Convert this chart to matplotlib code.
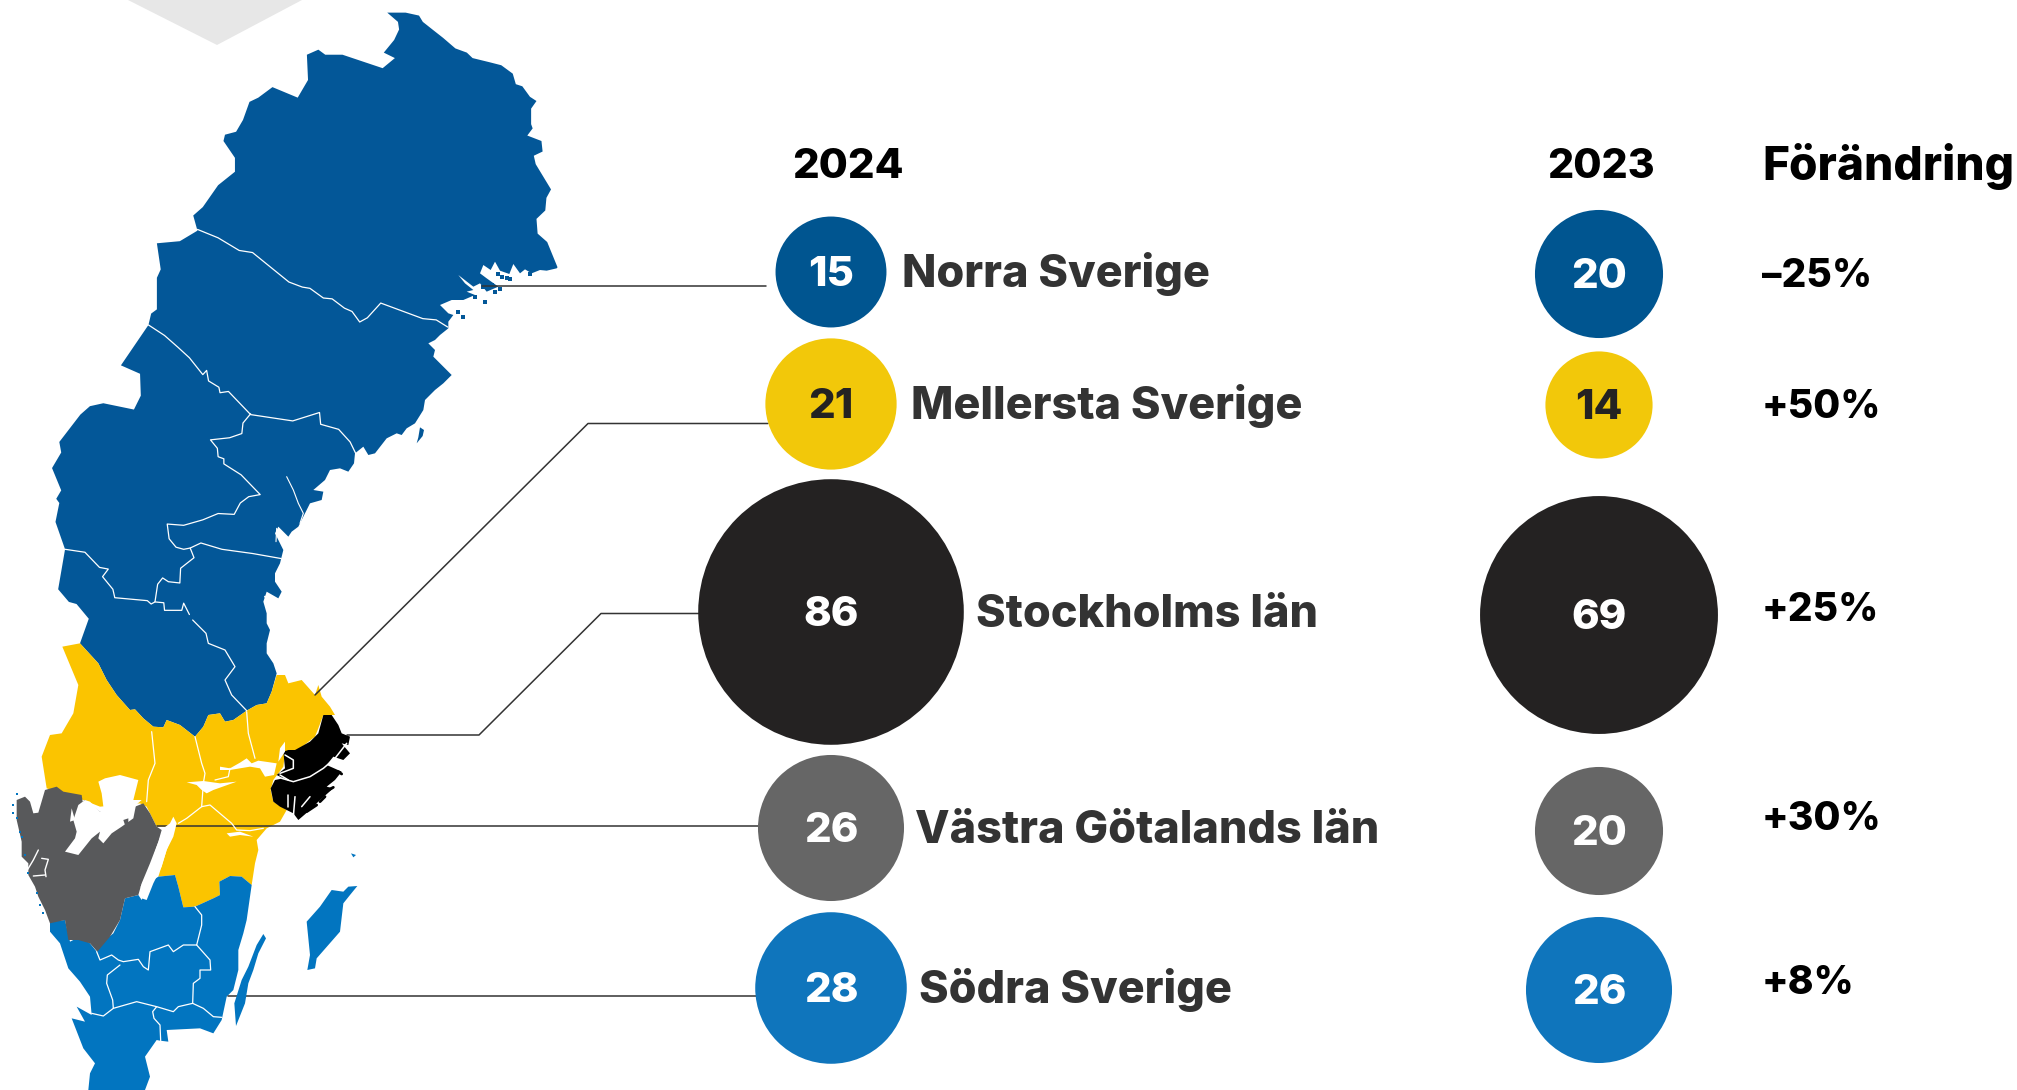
import numpy as np
import matplotlib
matplotlib.use("Agg")
import matplotlib.pyplot as plt
from matplotlib.patches import Circle, Polygon

plt.rcParams['font.family'] = ['Inter', 'DejaVu Sans']

# Tabellen
regioner = ['Norra Sverige', 'Mellersta Sverige', 'Stockholms län', 'Västra Götalands län', 'Södra Sverige']
varden_2024 = [15, 21, 86, 26, 28]
varden_2023 = [20, 14, 69, 20, 26]
forandring = ['–25%', '+50%', '+25%', '+30%', '+8%']

# Kartan, avläst ur utsnitt i olika skalor (se fran_* nedan)
norr_a1 = [(1012,30),(1060,30),(1095,37),(1105,52),(1130,70),(1158,90),(1190,115),(1220,125),(1235,138),(1280,148),(1310,155),(1340,175),(1348,200),(1365,205),(1385,230),(1402,240),(1388,258),(1388,295),(1392,305),(1378,322),(1415,335),(1418,360),(1395,370),(1400,390),(1440,450),(1428,470),(1425,500),(1402,520),(1405,555),(1430,575),(1457,635)]
norr_kust1 = [(410,55),(380,62),(360,60),(335,70),(315,58),(300,70),(280,42),(268,72),(240,62),(225,35),(212,60),(190,45),(180,70),(200,85),(235,110),(200,125),(180,100),(160,110),(115,75),(135,100),(160,120),(140,125),(165,135),(130,150),(95,150),(60,165),(85,190),(100,195),(85,215),(85,235),(60,255),(45,270),(25,280),(45,300),(40,320),(55,335),(75,355),(95,375),(70,400),(45,420),(20,445)]
norr_kust2 = [(495,0),(490,30),(465,70),(440,85),(425,105),(410,100),(380,115),(345,160),(325,165),(310,140),(285,160),(282,190),(265,215),(240,205),(210,210),(195,240),(160,270),(190,275),(185,300),(150,310),(130,350),(115,380),(95,395),(85,410),(55,380),(45,400),(60,430),(70,450),(60,490),(45,520),(45,545),(65,575),(55,595),(20,575),(10,605),(20,640),(20,670),(30,690),(20,730)]
norr_b = [(800,100),(820,130),(830,160),(815,215),(800,250),(770,255),(740,272),(700,300),(675,305),(660,280),(625,285),(610,320),(585,350),(540,315),(500,300),(490,322),(460,320),(430,295),(405,268),(390,270),(350,225),(320,180),(295,130),(240,70)]
norr_a2 = [(232,1470),(200,1435),(180,1430),(152,1400),(170,1305),(145,1240),(155,1195),(147,1185),(160,1165),(136,1112),(160,1075),(155,1050),(210,985),(235,965),(270,958),(350,973),(368,940),(366,888),(316,868),(388,772),(395,745),(410,735),(410,660),(420,640),(410,578),(470,573),(516,548),(505,512),(530,492),(570,440),(614,408),(614,375),(584,335),(588,320),(617,313),(635,285),(652,242),(675,232),(712,207),(778,232),(805,190),(802,130),(832,118),(850,130),(895,130),(1000,162),(1032,138),(1003,125),(1030,95),(1043,70),(1040,52)]
holmon_k2 = [(480,82),(492,90),(488,108),(470,130),(475,112)]
oar_k1 = [(235,72),(260,85),(190,112),(215,105),(240,118),(165,140),(195,155),(115,185),(130,200),(245,80),(270,88),(330,72),(225,125)]
mellan_b = [(187,80),(240,70),(295,130),(320,180),(350,225),(390,270),(405,268),(430,295),(460,320),(490,322),(500,300),(540,315),(585,350),(610,320),(625,285),(660,280),(675,305),(700,300),(740,272),(770,255),(800,250),(815,215),(830,165),(855,165),(865,190),(905,180),(945,225),(955,195),(965,230),(990,260),(1005,285),(970,285),(955,325),(945,350),(900,385),(870,398),(855,400),(850,440),(820,480),(812,510),(820,545),(860,570),(840,605),(800,625),(770,660),(775,690),(765,730),(755,795),(725,770),(690,768),(658,785),(660,825),(640,835),(585,860),(550,862),(535,800),(525,765),(475,770),(500,690),(525,620),(470,620),(440,560),(420,550),(300,560),(250,540),(140,505),(125,410),(150,345),(185,340),(220,280),(235,195)]
vastra_v = [(105,60),(140,50),(160,65),(215,75),(218,95),(225,90),(270,125),(282,130),(375,110),(400,100),(420,130),(440,170),(455,180),(445,215),(420,280),(395,340),(385,375),(345,385),(330,450),(300,500),(262,545),(240,520),(205,510),(175,510),(165,450),(120,460),(105,420),(85,380),(75,350),(55,315),(55,280),(35,260),(35,215),(20,150),(20,90),(45,80),(60,95),(70,130),(85,128)]
sthlm_s = [(190,45),(215,45),(235,75),(245,100),(270,110),(265,135),(245,130),(270,160),(250,180),(220,170),(200,195),(245,215),(225,240),(200,260),(220,265),(180,300),(150,330),(115,360),(100,340),(60,320),(40,305),(32,265),(45,240),(70,235),(50,225),(75,205),(70,155),(85,150),(105,150),(150,125),(175,100)]
soder_b = [(150,905),(195,900),(210,965),(240,950),(270,970),(290,995),(310,965),(340,940),(360,900),(375,835),(415,825),(425,840),(445,790),(475,770),(525,765),(535,800),(550,862),(585,860),(640,835),(660,825),(658,785),(690,768),(725,770),(755,795),(750,830),(740,900),(730,940),(715,990),(715,1050),(700,1110),(680,1130),(665,1200),(640,1240),(600,1225),(500,1230),(505,1265),(480,1262),(470,1260),(435,1310),(450,1370),(435,1410),(265,1410),(270,1360),(285,1330),(250,1285),(215,1195),(255,1205),(230,1160),(275,1185),(270,1130),(240,1085),(205,1045),(180,970),(150,935)]
oland_b = [(790,942),(798,955),(775,1000),(760,1050),(745,1090),(735,1150),(708,1218),(703,1150),(725,1080),(745,1040),(770,975)]
gotland_b = [(995,810),(1030,815),(1045,800),(1072,798),(1050,825),(1030,850),(1020,935),(985,975),(950,1015),(945,1045),(922,1050),(930,1005),(920,905),(960,860)]
gotska_b = [(1053,700),(1068,705),(1060,712)]
vanern_v = [(265,35),(285,25),(330,15),(385,30),(370,90),(395,90),(378,105),(370,145),(335,170),(305,190),(280,220),(265,205),(270,185),(245,205),(205,255),(165,245),(195,205),(200,185),(190,150),(205,105),(225,90),(240,95),(270,125),(282,125),(275,70)]
vanern_o_v = [(340,150),(355,145),(355,162),(345,165)]
dalsland_v = [(185,115),(195,150),(180,155)]
vattern_v = [(490,140),(500,160),(490,200),(470,240),(455,290),(430,340),(410,390),(395,385),(392,350),(420,290),(440,230),(460,175),(480,160)]
malaren_b = [(660,440),(690,445),(720,428),(740,415),(755,430),(775,422),(830,430),(822,465),(795,470),(780,445),(750,440),(690,450),(660,450)]
hjalmaren_b = [(560,487),(610,483),(660,490),(710,485),(640,510),(620,520),(605,510),(590,495)]
ostkust_vit_b = [(680,640),(720,635),(760,650),(720,645),(690,650)]
fjord_s = [(60,145),(75,125),(75,155),(55,185)]
bla_prickar_v = [(20,72),(10,105),(8,130),(22,145),(30,185),(45,255),(55,310),(80,370),(90,405),(100,430),(35,200)]

# Länsgränser
granser_a = [
    [(516,545),(570,565),(625,595),(660,600),(755,670),(790,682),(810,685),(845,708),(868,710),(900,732),(920,740),(940,765),(960,755),(995,720),(1105,757),(1140,760),(1170,777)],
    [(388,772),(430,797),(465,825),(495,850),(530,890),(540,880),(545,905),(572,920),(575,933),(597,930),(655,985),(765,1000),(835,980),(838,1008),(885,1020),(915,1050),(930,1078)],
    [(655,983),(635,1005),(632,1030),(600,1040),(550,1045),(568,1065),(570,1085),(585,1090),(585,1102),(630,1128),(680,1175),(650,1180),(628,1195),(612,1222),(570,1220),(530,1235),(480,1248),(437,1245),(442,1280),(460,1300),(480,1305),(497,1302),(525,1290),(580,1305),(660,1315),(735,1327)],
    [(497,1302),(507,1325),(472,1350),(470,1385),(440,1382),(425,1373),(412,1388),(405,1430),(395,1435),(385,1427),(300,1420),(295,1400),(268,1370),(283,1352),(260,1348),(222,1312),(170,1305)],
    [(405,1430),(428,1432),(430,1450),(475,1450),(480,1433),(495,1460)],
]
granser_b = [
    [(578,0),(618,40),(625,70),(675,90),(705,140),(675,180),(695,225),(740,272)],
    [(455,335),(465,430),(445,480),(440,545)],
    [(585,350),(605,430),(615,460),(610,490),(605,560),(560,595),(535,610)],
    [(740,275),(745,340),(765,415)],
    [(690,445),(685,470),(645,480)],
    [(605,560),(630,555),(695,610),(710,630),(750,632),(790,625)],
    [(585,860),(605,885),(605,915),(590,975),(550,975),(520,995),(505,975),(450,995),(445,1050),(430,1040),(415,1018),(370,1025),(355,1020),(335,1005),(300,1020),(290,995)],
    [(590,975),(630,1020),(632,1050),(600,1050),(600,1075),(580,1090),(578,1150),(610,1165),(640,1190),(665,1192)],
    [(360,1035),(322,1065),(320,1090),(338,1140),(340,1165),(310,1188),(275,1180)],
    [(340,1165),(410,1145),(470,1160),(520,1175),(535,1160),(578,1150)],
    [(470,1160),(458,1175),(462,1195),(480,1215),(482,1262)],
]
alv_k2 = [[(80,230),(100,270),(115,310),(130,340),(120,370)], [(50,385),(48,425)]]
kanal_k2 = [[(15,590),(55,612)]]
bohus_v = [[(85,240),(70,270),(52,300)], [(95,265),(115,268),(105,300),(108,320)], [(70,318),(105,315)]]
skargard_s = [
    [(75,165),(100,180),(100,205),(60,220)],
    [(65,235),(100,245),(150,230),(190,205),(225,175),(260,130)],
    [(85,285),(85,320)],
    [(105,290),(100,350)],
    [(125,320),(150,290)],
    [(60,225),(85,240)],
]
oar_s = [[(140,335),(170,315)], [(180,305),(195,290)], [(205,270),(220,262)], [(235,215),(245,222)]]

# Linjer från kartan till cirklarna
linjer = [
    [(482,285.5),(766,285.5)],
    [(315,695),(588,423.5),(768,423.5)],
    [(347,735),(479,735),(601,613.5),(700,613.5)],
    [(157,825.7),(758,825.7)],
    [(228,996),(756,996)],
]

farger_cirkel = ['#005590', '#f2c80a', '#242222', '#666666', '#0f75bc']
farger_tal = ['white', '#242222', 'white', 'white', 'white']
RADIE = 14.32  # radie = RADIE * sqrt(värde), cirkelytan följer värdet

y_2024 = [272, 404, 612, 828, 988]
y_2023 = [274, 405, 615, 831, 990]
y_andring = [273, 404, 607, 816, 980]
x_namn = [902, 911, 976, 915, 919]


def fran_a(p):
    return [(x * 600 / 1568, y * 660 / 1568) for x, y in p]


def fran_b(p):
    return [(x / 3, 620 + y / 3) for x, y in p]


def fran_k1(p):
    return [(420 + x / 3, 250 + y / 3) for x, y in p]


def fran_k2(p):
    return [(260 + x / 3, 400 + y / 3) for x, y in p]


def fran_s(p):
    return [(260 + x / 3, 700 + y / 3) for x, y in p]


def fran_v(p):
    return [(10 + x / 3, 770 + y / 3) for x, y in p]


def skriv(ax, x, y, s, px, color, ha='left'):
    # y är mitten på versalhöjden
    ax.text(x, y + 0.36 * px, s, fontsize=px * 0.72, color=color, fontweight=800,
            ha=ha, va='baseline', zorder=7)


def linje(ax, p, color, lw, z):
    xs, ys = zip(*p)
    ax.plot(xs, ys, color=color, lw=lw, zorder=z, solid_capstyle='round')


fig = plt.figure(figsize=(20.17, 10.90), dpi=100)
ax = fig.add_axes([0, 0, 1, 1])
ax.set_xlim(0, 2017)
ax.set_ylim(1090, 0)
ax.axis('off')

# grå spets högst upp
ax.add_patch(Polygon([(128, 0), (217, 45), (302, 0)], fc='#e7e7e7', ec='none'))

for ln in linjer:
    linje(ax, ln, '#333333', 1.1, 2.5)

BLA_N = '#035798'
BLA_S = '#0275c0'
norr = fran_a(norr_a1) + fran_k1(norr_kust1) + fran_k2(norr_kust2) + fran_b(norr_b) + fran_a(norr_a2)
ax.add_patch(Polygon(norr, fc=BLA_N, ec='none', zorder=2))
ax.add_patch(Polygon(fran_k2(holmon_k2), fc=BLA_N, ec='none', zorder=2))
ax.add_patch(Polygon(fran_b(mellan_b), fc='#fbc400', ec='none', zorder=2))
ax.add_patch(Polygon(fran_b(soder_b), fc=BLA_S, ec='none', zorder=2))
ax.add_patch(Polygon(fran_v(vastra_v), fc='#58595b', ec='none', zorder=3))
ax.add_patch(Polygon(fran_s(sthlm_s), fc='black', ec='none', zorder=3))
for o in [oland_b, gotland_b, gotska_b]:
    ax.add_patch(Polygon(fran_b(o), fc=BLA_S, ec='none', zorder=3))

xo, yo = zip(*fran_k1(oar_k1))
ax.scatter(xo, yo, s=9, c=BLA_N, marker='s', linewidths=0, zorder=2)
xo, yo = zip(*fran_v(bla_prickar_v))
ax.scatter(xo, yo, s=4, c=BLA_S, marker='s', linewidths=0, zorder=3)

sjoar = [fran_v(vanern_v), fran_v(dalsland_v), fran_v(vattern_v),
         fran_b(malaren_b), fran_b(hjalmaren_b), fran_b(ostkust_vit_b), fran_s(fjord_s)]
for s in sjoar:
    ax.add_patch(Polygon(s, fc='white', ec='none', zorder=4))
ax.add_patch(Polygon(fran_v(vanern_o_v), fc='#58595b', ec='none', zorder=4.5))

for g in [fran_a(p) for p in granser_a] + [fran_b(p) for p in granser_b]:
    linje(ax, g, 'white', 0.9, 5)
for g in alv_k2:
    linje(ax, fran_k2(g), 'white', 0.8, 5)
for g in kanal_k2:
    linje(ax, fran_k2(g), 'white', 1.4, 5)
for g in bohus_v:
    linje(ax, fran_v(g), 'white', 1.0, 5)
for g in skargard_s:
    linje(ax, fran_s(g), 'white', 1.1, 5)
for g in oar_s:
    linje(ax, fran_s(g), 'black', 2.0, 5)

# Rubriker
skriv(ax, 792, 163, '2024', 42, 'black')
skriv(ax, 1547, 163, '2023', 41, 'black')
skriv(ax, 1762, 163, 'Förändring', 46, 'black')

# Rader
for i, namn in enumerate(regioner):
    r = RADIE * np.sqrt(varden_2024[i])
    ax.add_patch(Circle((831, y_2024[i]), r, fc=farger_cirkel[i], ec='none', zorder=6))
    skriv(ax, 831, y_2024[i] - 1, str(varden_2024[i]), 42, farger_tal[i], ha='center')
    skriv(ax, x_namn[i], y_2024[i] - 1, namn, 45, '#333333')

    r = RADIE * np.sqrt(varden_2023[i])
    ax.add_patch(Circle((1599, y_2023[i]), r, fc=farger_cirkel[i], ec='none', zorder=6))
    skriv(ax, 1599, y_2023[i] - 1, str(varden_2023[i]), 42, farger_tal[i], ha='center')

    skriv(ax, 1762, y_andring[i], forandring[i], 39, 'black')

fig.savefig('out.png', dpi=100)
